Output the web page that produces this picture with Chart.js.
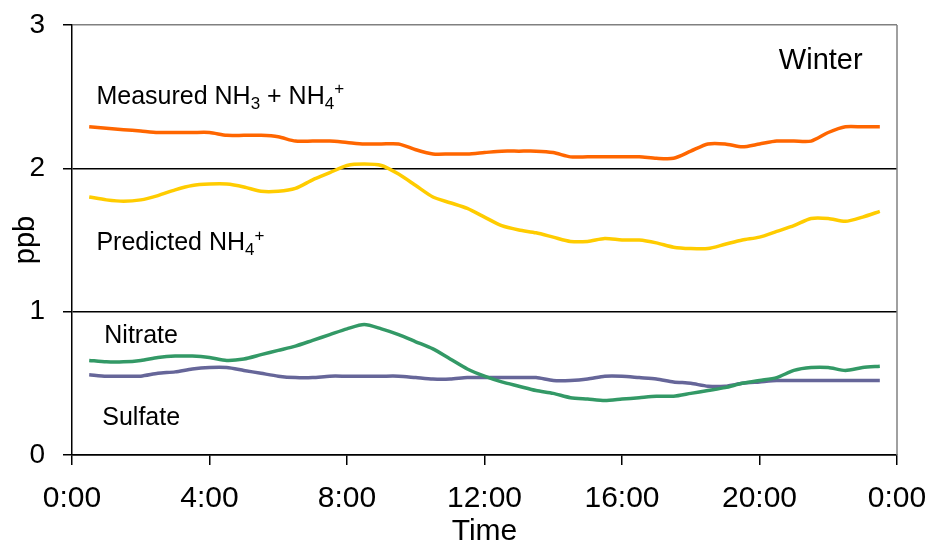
<!DOCTYPE html>
<html>
<head>
<meta charset="utf-8">
<script src="https://cdn.jsdelivr.net/npm/chart.js@4/dist/chart.umd.min.js"></script>
<style>
  html, body { margin: 0; padding: 0; background: #fff; }
  #wrap { width: 933px; height: 550px; }
</style>
</head>
<body>
<div id="wrap"><canvas id="c" width="933" height="550"></canvas></div>
<script>
// Half-hourly sampling times (hours of day)
const hours = [0.5, 1, 1.5, 2, 2.5, 3, 3.5, 4, 4.5, 5, 5.5, 6, 6.5, 7, 7.5, 8,
  8.5, 9, 9.5, 10, 10.5, 11, 11.5, 12, 12.5, 13, 13.5, 14, 14.5, 15, 15.5, 16,
  16.5, 17, 17.5, 18, 18.5, 19, 19.5, 20, 20.5, 21, 21.5, 22, 22.5, 23, 23.5];

// Concentrations, ppb
const measuredNH3NH4 = [2.29, 2.28, 2.27, 2.26, 2.25, 2.25, 2.25, 2.25, 2.23, 2.23,
  2.23, 2.22, 2.19, 2.19, 2.19, 2.18, 2.17, 2.17, 2.17, 2.13, 2.10, 2.10, 2.10,
  2.11, 2.12, 2.12, 2.12, 2.11, 2.08, 2.08, 2.08, 2.08, 2.08, 2.07, 2.07, 2.12,
  2.17, 2.17, 2.15, 2.17, 2.19, 2.19, 2.19, 2.25, 2.29, 2.29, 2.29];
const predictedNH4 = [1.80, 1.78, 1.77, 1.78, 1.81, 1.85, 1.88, 1.89, 1.89, 1.87,
  1.84, 1.84, 1.86, 1.92, 1.97, 2.02, 2.03, 2.02, 1.96, 1.88, 1.80, 1.76, 1.72,
  1.66, 1.60, 1.57, 1.55, 1.52, 1.49, 1.49, 1.51, 1.50, 1.50, 1.48, 1.45, 1.44,
  1.44, 1.47, 1.50, 1.52, 1.56, 1.60, 1.65, 1.65, 1.63, 1.66, 1.70];
const nitrate = [0.66, 0.65, 0.65, 0.66, 0.68, 0.69, 0.69, 0.68, 0.66, 0.67, 0.70,
  0.73, 0.76, 0.80, 0.84, 0.88, 0.91, 0.88, 0.84, 0.79, 0.74, 0.67, 0.60, 0.55,
  0.51, 0.48, 0.45, 0.43, 0.40, 0.39, 0.38, 0.39, 0.40, 0.41, 0.41, 0.43, 0.45,
  0.47, 0.50, 0.52, 0.54, 0.59, 0.61, 0.61, 0.59, 0.61, 0.62];
const sulfate = [0.56, 0.55, 0.55, 0.55, 0.57, 0.58, 0.60, 0.61, 0.61, 0.59, 0.57,
  0.55, 0.54, 0.54, 0.55, 0.55, 0.55, 0.55, 0.55, 0.54, 0.53, 0.53, 0.54, 0.54,
  0.54, 0.54, 0.54, 0.52, 0.52, 0.53, 0.55, 0.55, 0.54, 0.53, 0.51, 0.50, 0.48,
  0.48, 0.50, 0.51, 0.52, 0.52, 0.52, 0.52, 0.52, 0.52, 0.52];

// Axis ticks
const timeTicks = [0, 4, 8, 12, 16, 20, 24];
const ppbTicks = [0, 1, 2, 3];

// In-plot labels: rich text runs anchored at (hour, ppb)
const seriesLabels = [
  { x: 0.71, y: 2.45, align: 'left', size: 25,
    runs: [['Measured NH'], ['3', 'sub'], [' + NH'], ['4', 'sub'], ['+', 'sup']] },
  { x: 0.71, y: 1.43, align: 'left', size: 25,
    runs: [['Predicted NH'], ['4', 'sub'], ['+', 'sup']] },
  { x: 0.94, y: 0.78, align: 'left', size: 25, runs: [['Nitrate']] },
  { x: 0.88, y: 0.21, align: 'left', size: 25, runs: [['Sulfate']] },
  { x: 23.0, y: 2.69, align: 'right', size: 29, runs: [['Winter']] }
];

const FONT = '"Liberation Sans", Arial, sans-serif';

function toPoints(ys) {
  return hours.map((h, i) => ({ x: h, y: ys[i] }));
}

function lineSet(label, ys, color) {
  return {
    label, data: toPoints(ys), borderColor: color, backgroundColor: color,
    borderWidth: 3.5, pointRadius: 0, tension: 0.25, fill: false
  };
}

// Rich text with sub/superscripts and the grey frame on the right
const annotations = {
  id: 'annotations',
  afterDraw(chart) {
    const { ctx, chartArea, scales } = chart;
    ctx.save();
    ctx.strokeStyle = '#808080';
    ctx.lineWidth = 1.5;
    ctx.beginPath();
    ctx.moveTo(chartArea.right, chartArea.top);
    ctx.lineTo(chartArea.right, chartArea.bottom);
    ctx.stroke();

    ctx.fillStyle = '#000';
    ctx.textBaseline = 'alphabetic';
    for (const lab of seriesLabels) {
      const px = scales.x.getPixelForValue(lab.x);
      const py = scales.y.getPixelForValue(lab.y);
      const pieces = lab.runs.map(([t, kind]) => {
        const sz = kind ? Math.round(lab.size * 0.68) : lab.size;
        ctx.font = sz + 'px ' + FONT;
        return { t, kind, sz, w: ctx.measureText(t).width };
      });
      const total = pieces.reduce((s, p) => s + p.w, 0);
      let cx = lab.align === 'right' ? px - total : px;
      for (const p of pieces) {
        ctx.font = p.sz + 'px ' + FONT;
        let dy = 0;
        if (p.kind === 'sub') dy = lab.size * 0.2;
        if (p.kind === 'sup') dy = -lab.size * 0.38;
        ctx.fillText(p.t, cx, py + dy);
        cx += p.w;
      }
    }
    ctx.restore();
  }
};

new Chart(document.getElementById('c'), {
  type: 'line',
  data: {
    datasets: [
      lineSet('Measured NH3 + NH4+', measuredNH3NH4, '#FF6600'),
      lineSet('Predicted NH4+', predictedNH4, '#FFCC00'),
      lineSet('Nitrate', nitrate, '#339966'),
      lineSet('Sulfate', sulfate, '#666699')
    ]
  },
  options: {
    responsive: false,
    animation: false,
    devicePixelRatio: 1,
    layout: { padding: { top: 25, right: 36, left: 0, bottom: 0 } },
    plugins: { legend: { display: false }, tooltip: { enabled: false } },
    scales: {
      x: {
        type: 'linear',
        min: 0, max: 24,
        afterFit(s) { s.height = 95; s.paddingLeft = 0; s.paddingRight = 0; },
        afterBuildTicks(s) { s.ticks = timeTicks.map(v => ({ value: v })); },
        ticks: {
          color: '#000',
          font: { family: FONT, size: 30 },
          padding: 16,
          maxRotation: 0,
          callback: v => (v % 24) + ':00'
        },
        grid: { drawOnChartArea: false, drawTicks: true, tickLength: 10, tickColor: '#000', lineWidth: 1.5 },
        border: { display: true, color: '#000', width: 1.5 },
        title: {
          display: true, text: 'Time', color: '#000',
          font: { family: FONT, size: 30, lineHeight: 1 }, padding: { top: 0, bottom: 3 }
        }
      },
      y: {
        min: 0, max: 3,
        afterFit(s) { s.width = 72; s.paddingTop = 0; s.paddingBottom = 0; },
        afterBuildTicks(s) { s.ticks = ppbTicks.map(v => ({ value: v })); },
        ticks: {
          color: '#000',
          font: { family: FONT, size: 28 },
          padding: 18
        },
        grid: {
          drawTicks: true, tickLength: 9, tickColor: '#000', lineWidth: 1.5,
          color: c => (c.tick && c.tick.value === 3) ? '#808080' : '#000'
        },
        border: { display: true, color: '#000', width: 1.5 },
        title: {
          display: true, text: 'ppb', color: '#000',
          font: { family: FONT, size: 29 }, padding: { top: 9, bottom: 0 }
        }
      }
    }
  },
  plugins: [annotations]
});
</script>
</body>
</html>
